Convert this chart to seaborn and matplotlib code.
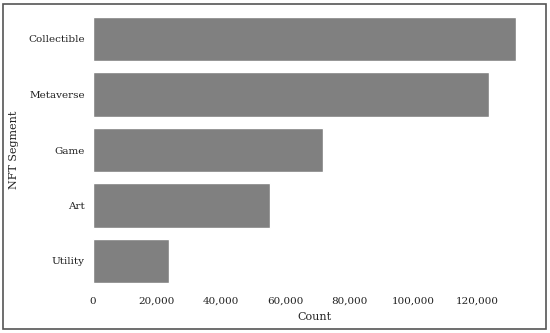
import matplotlib
matplotlib.use("Agg")
import matplotlib.pyplot as plt
from matplotlib.patches import Rectangle
from matplotlib.ticker import FuncFormatter
import seaborn as sns
import pandas as pd

# ===== Data =====
segments = ["Collectible", "Metaverse", "Game", "Art", "Utility"]
counts = [132300, 123800, 71900, 55300, 23700]

df = pd.DataFrame({"NFT Segment": segments, "Count": counts})

sns.set_theme(style="white")
plt.rcParams["font.family"] = "serif"
plt.rcParams["font.serif"] = ["DejaVu Serif"]

fig = plt.figure(figsize=(5.5, 3.33), dpi=100)
ax = fig.add_axes([93 / 550, 1 - 288.75 / 333, 443.5 / 550, 277.5 / 333])

sns.barplot(data=df, y="NFT Segment", x="Count", color="#808080",
            saturation=1, width=0.8, ax=ax)

ax.set_xlim(0, 138600)
ax.set_xticks(range(0, 140000, 20000))
ax.xaxis.set_major_formatter(FuncFormatter(lambda v, p: f"{int(v):,}"))
ax.tick_params(axis="both", length=0, labelsize=7.5, colors="#222222", pad=6)
ax.set_xlabel("Count", fontsize=8, color="#222222", labelpad=4.5)
ax.set_ylabel("NFT Segment", fontsize=8, color="#222222")
ax.yaxis.set_label_coords(-74 / 443.5, 0.5)
sns.despine(ax=ax, left=True, bottom=True)

# frame around the whole figure
fig.patches.append(Rectangle((3 / 550, 4 / 333), 543 / 550, 325 / 333,
                             transform=fig.transFigure, fill=False,
                             edgecolor="#555555", linewidth=1.2))

fig.savefig("out.png", dpi=100)
